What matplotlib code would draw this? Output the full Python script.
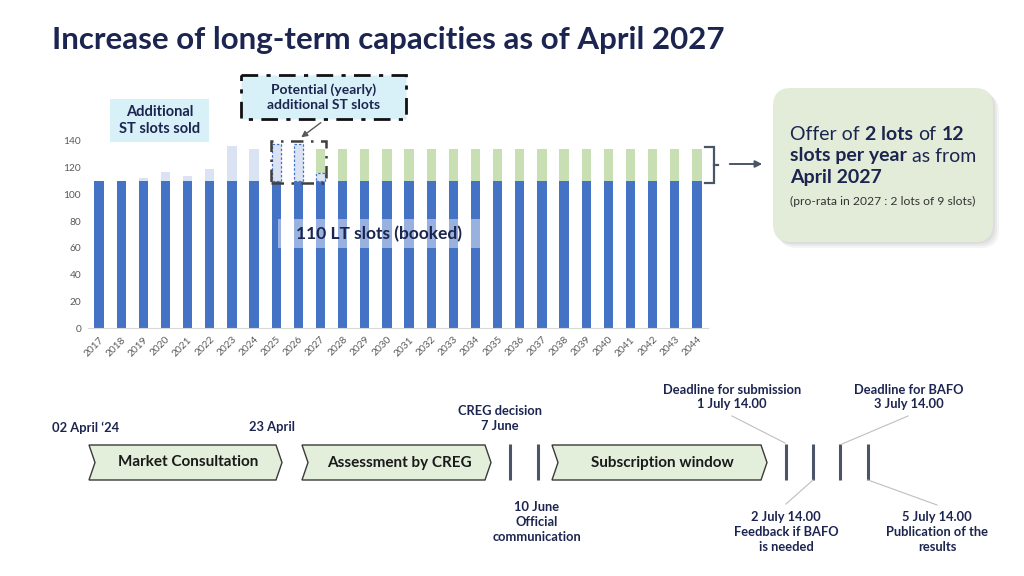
import matplotlib
matplotlib.use("Agg")
import matplotlib.pyplot as plt
from matplotlib.patches import Rectangle, Polygon, FancyBboxPatch
import numpy as np

# --- data ---
years = ["2017", "2018", "2019", "2020", "2021", "2022", "2023", "2024", "2025", "2026",
         "2027", "2028", "2029", "2030", "2031", "2032", "2033", "2034", "2035", "2036",
         "2037", "2038", "2039", "2040", "2041", "2042", "2043", "2044"]
lt_booked = [110, 110, 110, 110, 110, 110, 110, 110, 110, 110,
             110, 110, 110, 110, 110, 110, 110, 110, 110, 110,
             110, 110, 110, 110, 110, 110, 110, 110]
st_sold = [0, 0, 2, 7, 4, 9, 26, 24, 0, 0,
           0, 0, 0, 0, 0, 0, 0, 0, 0, 0,
           0, 0, 0, 0, 0, 0, 0, 0]
st_potential = [0, 0, 0, 0, 0, 0, 0, 0, 28, 28,
                6, 0, 0, 0, 0, 0, 0, 0, 0, 0,
                0, 0, 0, 0, 0, 0, 0, 0]
new_lt_offer = [0, 0, 0, 0, 0, 0, 0, 0, 0, 0,
                18, 24, 24, 24, 24, 24, 24, 24, 24, 24,
                24, 24, 24, 24, 24, 24, 24, 24]
y_ticks = [0, 20, 40, 60, 80, 100, 120, 140]

BLUE = "#4472c4"
LIGHT = "#dae3f3"
GREEN = "#c8dfb4"
NAVY = "#1c2550"
SLATE = "#4a5568"
CHEV = "#e3eedb"

plt.rcParams["font.family"] = ["Lato", "DejaVu Sans"]

fig = plt.figure(figsize=(10.24, 5.76), dpi=100)
fig.patch.set_facecolor("white")

# ---- bar chart ----
ax = fig.add_axes([88 / 1024, 1 - 328 / 576, 620 / 1024, 187 / 576])
x = np.arange(len(years))
w = 0.42
ax.bar(x, lt_booked, w, color=BLUE, zorder=2)
ax.bar(x, st_sold, w, bottom=lt_booked, color=LIGHT, zorder=2)
idx = [i for i, v in enumerate(st_potential) if v > 0]
ax.bar(x[idx], [st_potential[i] for i in idx], w, bottom=[lt_booked[i] for i in idx],
       color=LIGHT, edgecolor=BLUE, linestyle=(0, (2, 1.5)), linewidth=0.9, zorder=3)
base = np.add(lt_booked, st_potential)
ax.bar(x, new_lt_offer, w, bottom=base, color=GREEN, zorder=2)

ax.set_xlim(-0.5, len(years) - 0.5)
ax.set_ylim(0, 140)
ax.set_yticks(y_ticks)
ax.set_xticks(x)
ax.set_xticklabels(years, rotation=45, ha="right", rotation_mode="anchor")
ax.tick_params(length=0, labelsize=7.3, colors="#595959", pad=5)
for s in ["top", "right", "left"]:
    ax.spines[s].set_visible(False)
ax.spines["bottom"].set_color("#d9d9d9")

# group box around the potential ST years
ax.add_patch(Rectangle((7.78, 108.8), 2.45, 31.2, fill=False, ec="#3f3f3f", lw=1.8,
                       linestyle=(0, (5, 3, 1, 3)), clip_on=False, zorder=4))
# bracket on the right of the green block
ax.plot([27.37, 27.75, 27.75, 27.37], [135.5, 135.5, 108.5, 108.5], color=SLATE, lw=1.6,
        clip_on=False, solid_joinstyle="miter")
ax.plot([27.75, 27.95], [122, 122], color=SLATE, lw=1.6, clip_on=False)

# ---- overlay in pixel coordinates ----
ov = fig.add_axes([0, 0, 1, 1], zorder=5)
ov.set_xlim(0, 1024)
ov.set_ylim(576, 0)
ov.axis("off")

ov.text(52, 40, "Increase of long-term capacities as of April 2027", fontsize=22.5,
        fontweight="bold", color=NAVY, va="center", ha="left")

# annotation boxes on the chart
ov.add_patch(Rectangle((110, 99), 99, 43, fc="#d8f1f8", ec="none"))
ov.text(159.5, 120.5, "Additional\nST slots sold", fontsize=10.5, fontweight="bold",
        color=NAVY, ha="center", va="center", linespacing=1.3)

ov.add_patch(Rectangle((241, 75), 165, 44, fc="#d8f1f8", ec="#111111", lw=2,
                       linestyle=(0, (6, 3, 1.5, 3))))
ov.text(323.5, 97, "Potential (yearly)\nadditional ST slots", fontsize=10,
        fontweight="bold", color=NAVY, ha="center", va="center", linespacing=1.3)
ov.annotate("", xy=(299, 139), xytext=(323, 121),
            arrowprops=dict(arrowstyle="-|>", color="#595959", lw=1, mutation_scale=9))

ov.add_patch(Rectangle((278, 219), 202, 29, fc="white", alpha=0.45, ec="none"))
ov.text(379, 234, "110 LT slots (booked)", fontsize=12.5, fontweight="bold",
        color=NAVY, ha="center", va="center")

ov.annotate("", xy=(765, 164), xytext=(727, 164),
            arrowprops=dict(arrowstyle="-|>", color=SLATE, lw=1.4, mutation_scale=10))

# offer box with soft shadow
for off, a in [(6, 0.10), (4, 0.12), (2, 0.15)]:
    ov.add_patch(FancyBboxPatch((773 + off, 88 + off), 220, 154,
                                boxstyle="round,pad=0,rounding_size=18",
                                fc="#9a9a9a", ec="none", alpha=a))
ov.add_patch(FancyBboxPatch((773, 88), 220, 154, boxstyle="round,pad=0,rounding_size=18",
                            fc="#e3ecd9", ec="none"))


def rich_line(px, py, parts, size, color):
    t = ov.text(px, py, parts[0][0], fontsize=size, fontweight=parts[0][1],
                color=color, va="center", ha="left")
    for s, wgt in parts[1:]:
        t = ov.annotate(s, xy=(1, 0), xycoords=t, xytext=(size * 0.28, 0),
                        textcoords="offset points", va="bottom", ha="left",
                        fontsize=size, fontweight=wgt, color=color)


rich_line(790, 134, [("Offer of", "normal"), ("2 lots", "bold"), ("of", "normal"),
                     ("12", "bold")], 14, NAVY)
rich_line(790, 156, [("slots per year", "bold"), ("as from", "normal")], 14, NAVY)
rich_line(790, 178, [("April 2027", "bold")], 14, NAVY)
ov.text(790, 201, "(pro-rata in 2027 : 2 lots of 9 slots)", fontsize=8.7, color="#333333",
        va="center", ha="left")

# ---- timeline ----
def chevron(x0, x1, y0, y1, d, label):
    ym = (y0 + y1) / 2
    pts = [(x0, y0), (x1 - d, y0), (x1, ym), (x1 - d, y1), (x0, y1), (x0 + d, ym)]
    ov.add_patch(Polygon(pts, closed=True, fc=CHEV, ec="#3a3a3a", lw=1))
    ov.text((x0 + d + x1) / 2, ym, label, fontsize=11, fontweight="bold", color="#1a1a1a",
            ha="center", va="center")


chevron(89, 282, 445, 480, 6, "Market Consultation")
chevron(302, 491, 445, 480, 6, "Assessment by CREG")
chevron(552, 767, 445, 480, 6, "Subscription window")

for vx in [510, 538, 786, 813, 840, 868]:
    ov.plot([vx, vx], [444, 480], color=SLATE, lw=2.2, solid_capstyle="butt")

lbl = dict(fontsize=9.3, fontweight="bold", color=NAVY, va="center")
ov.text(52, 428, "02 April \u201824", ha="left", **lbl)
ov.text(249, 427, "23 April", ha="left", **lbl)
ov.text(500, 418.5, "CREG decision\n7 June", ha="center", linespacing=1.3, **lbl)
ov.text(537, 522, "10 June\nOfficial\ncommunication", ha="center", linespacing=1.3, **lbl)
ov.text(732, 397, "Deadline for submission\n1 July 14.00", ha="center", linespacing=1.3, **lbl)
ov.text(909, 397, "Deadline for BAFO\n3 July 14.00", ha="center", linespacing=1.3, **lbl)
ov.text(786, 532, "2 July 14.00\nFeedback if BAFO\nis needed", ha="center",
        linespacing=1.3, **lbl)
ov.text(937, 532, "5 July 14.00\nPublication of the\nresults", ha="center",
        linespacing=1.3, **lbl)

lead = dict(color="#bfbfbf", lw=0.8)
ov.plot([732, 785], [416, 443], **lead)
ov.plot([908, 842], [416, 444], **lead)
ov.plot([813, 786], [480, 504], **lead)
ov.plot([868, 937], [480, 505], **lead)

fig.savefig("out.png", dpi=100)
